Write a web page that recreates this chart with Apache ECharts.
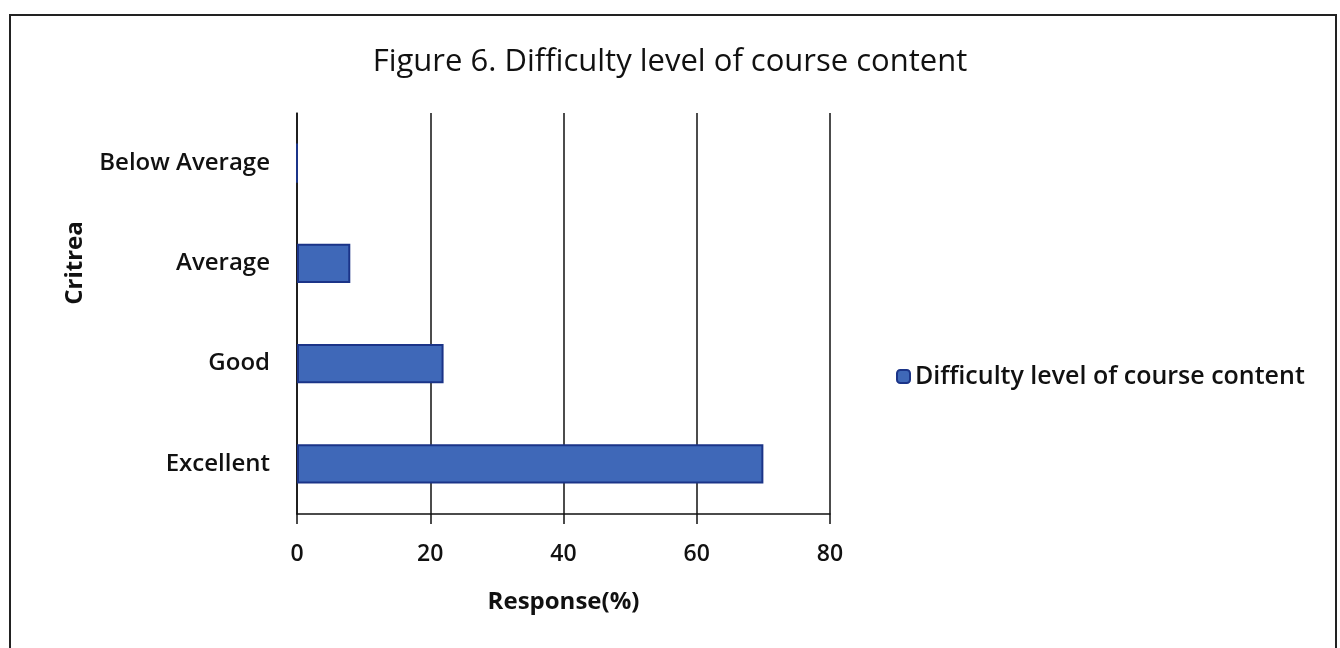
<!DOCTYPE html>
<html>
<head>
<meta charset="utf-8">
<script src="https://cdn.jsdelivr.net/npm/echarts@6/dist/echarts.min.js"></script>
<style>
  html, body { margin: 0; padding: 0; background: #fff; }
  #chart { width: 1340px; height: 648px; }
</style>
</head>
<body>
<div id="chart"></div>
<script>
// 数据
const categories = ['Excellent', 'Good', 'Average', 'Below Average']
const responseValues = [70, 22, 8, 0]
const xTicks = { min: 0, max: 80, interval: 20 }
const seriesName = 'Difficulty level of course content'

const chart = echarts.init(document.getElementById('chart'))
const font = 'Open Sans'

chart.setOption({
  animation: false,
  backgroundColor: '#fff',
  title: {
    text: 'Figure 6. Difficulty level of course content',
    left: 'center',
    top: 42,
    textStyle: { fontFamily: font, fontSize: 31, fontWeight: 'normal', color: '#111' }
  },
  graphic: [{
    type: 'rect',
    shape: { x: 10, y: 15, width: 1326, height: 660 },
    style: { fill: 'none', stroke: '#222', lineWidth: 2 }
  }, {
    // 纵轴标题
    type: 'text',
    x: 75,
    y: 263,
    rotation: Math.PI / 2,
    style: {
      text: 'Critrea',
      fontFamily: font,
      fontSize: 24,
      fontWeight: 'bold',
      fill: '#111',
      align: 'center',
      verticalAlign: 'middle'
    }
  }],
  legend: {
    left: 891,
    top: 359,
    itemWidth: 13,
    itemHeight: 13,
    itemGap: 10,
    textStyle: { fontFamily: font, fontSize: 25, fontWeight: 600, color: '#111' },
    data: [seriesName]
  },
  grid: {
    left: 297,
    right: 510,
    top: 113,
    bottom: 134
  },
  xAxis: {
    type: 'value',
    min: xTicks.min,
    max: xTicks.max,
    interval: xTicks.interval,
    name: 'Response(%)',
    nameLocation: 'middle',
    nameGap: 76,
    nameTextStyle: { fontFamily: font, fontSize: 24, fontWeight: 'bold', color: '#111' },
    axisLine: { show: true, lineStyle: { color: '#111', width: 1.5 } },
    axisTick: { show: true, length: 10, lineStyle: { color: '#111', width: 1.5 } },
    axisLabel: { fontFamily: font, fontSize: 23, fontWeight: 600, color: '#111', margin: 29 },
    splitLine: { show: true, lineStyle: { color: '#111', width: 1.5 } }
  },
  yAxis: {
    type: 'category',
    data: categories,
    axisLine: { show: true, lineStyle: { color: '#111', width: 1.5 } },
    axisTick: { show: false },
    axisLabel: { fontFamily: font, fontSize: 24, fontWeight: 600, color: '#111', margin: 27 }
  },
  series: [{
    name: seriesName,
    type: 'bar',
    data: responseValues,
    barWidth: '39%',
    itemStyle: {
      color: '#3f68b8',
      borderColor: '#1b3488',
      borderWidth: 2
    }
  }]
})
</script>
</body>
</html>
